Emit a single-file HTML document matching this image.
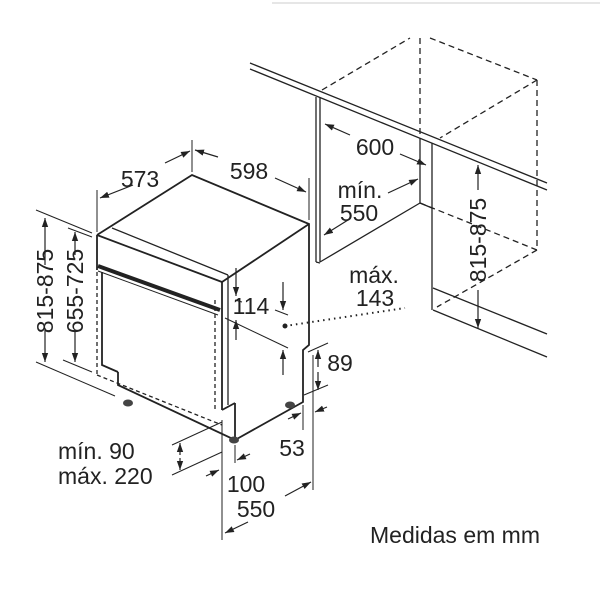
<!DOCTYPE html>
<html><head><meta charset="utf-8"><style>
html,body{margin:0;padding:0;background:#fff}
svg{display:block}
text{font-family:"Liberation Sans",sans-serif;fill:#222}
</style></head><body>
<svg width="600" height="600" viewBox="0 0 600 600" xmlns="http://www.w3.org/2000/svg">
<defs><marker id="a" viewBox="0 0 10 10" refX="10" refY="5" markerWidth="9" markerHeight="9" markerUnits="userSpaceOnUse" orient="auto-start-reverse"><path d="M0,1.5 L10,5 L0,8.5 z" fill="#222"/></marker></defs>
<line x1="272" y1="3" x2="600" y2="3" stroke="#ddd" stroke-width="1.5"/>
<g stroke="#222" fill="none" stroke-width="1.3">
<line x1="250" y1="63" x2="547" y2="183"/><line x1="250" y1="69" x2="547" y2="190"/>
<line x1="316" y1="97" x2="316" y2="262"/><line x1="320" y1="98" x2="320" y2="262"/>
<line x1="320" y1="262" x2="420" y2="203"/><line x1="316" y1="262" x2="320" y2="263"/>
<line x1="420" y1="138" x2="420" y2="203"/><line x1="420" y1="203" x2="432" y2="208"/>
<line x1="432" y1="143" x2="432" y2="310"/>
<line x1="433" y1="288" x2="547" y2="334"/><line x1="433" y1="310" x2="547" y2="357"/>
<g stroke-dasharray="6,4">
<line x1="322" y1="90" x2="410" y2="38"/><line x1="420" y1="38" x2="420" y2="138"/>
<line x1="430" y1="38" x2="537" y2="80"/><line x1="537" y1="80" x2="537" y2="250"/>
<line x1="537" y1="80" x2="440" y2="138"/><line x1="420" y1="203" x2="537" y2="250"/>
<line x1="537" y1="250" x2="437" y2="307"/>
</g>
<g stroke-width="1.8">
<polyline points="97,235 192,175 309,224 309,345 303,350 303,402 235,440 118,385 118,372"/>
<line x1="97" y1="235" x2="97" y2="270"/>
<line x1="97" y1="235" x2="222" y2="282"/>
<line x1="222" y1="282" x2="309" y2="224"/>
<polyline points="102,272 102,365 118,372"/>
<line x1="222" y1="282" x2="222" y2="410"/>
<line x1="222" y1="410" x2="235" y2="403"/>
<line x1="235" y1="403" x2="235" y2="440"/>
</g>
<line x1="112" y1="228" x2="228" y2="275"/>
<line x1="98" y1="266" x2="220" y2="310" stroke-width="4"/>
<line x1="98" y1="271" x2="218" y2="315" stroke-width="1"/>
<line x1="228" y1="275" x2="228" y2="405"/>
<g stroke-dasharray="4,3">
<line x1="97" y1="272" x2="97" y2="375"/><line x1="97" y1="375" x2="222" y2="425"/>
<line x1="215" y1="300" x2="215" y2="410"/>
</g>
<g stroke-width="1">
<line x1="97" y1="190" x2="97" y2="232"/>
<line x1="192" y1="140" x2="192" y2="172"/>
<line x1="309" y1="178" x2="309" y2="220"/>
<line x1="36" y1="210" x2="92" y2="233"/>
<line x1="36" y1="362" x2="115" y2="396"/>
<line x1="68" y1="228" x2="92" y2="237"/>
<line x1="63" y1="360" x2="92" y2="372"/>
<line x1="235" y1="300" x2="242" y2="302"/>
<line x1="225" y1="318" x2="288" y2="348"/>
<line x1="275" y1="310" x2="288" y2="315"/>
<line x1="308" y1="352" x2="328" y2="343"/>
<line x1="304" y1="395" x2="328" y2="385"/>
<line x1="313" y1="355" x2="313" y2="490"/>
<line x1="222" y1="420" x2="222" y2="540"/>
<line x1="235" y1="445" x2="235" y2="463"/>
<line x1="303" y1="405" x2="303" y2="430"/>
<line x1="172" y1="445" x2="222" y2="422"/>
<line x1="172" y1="475" x2="222" y2="452"/>
</g>
</g>
<g stroke="#222" stroke-width="1.2" fill="none" marker-end="url(#a)">
<line x1="133" y1="185" x2="100" y2="198"/><line x1="165" y1="163" x2="190" y2="151"/>
<line x1="218" y1="157" x2="195" y2="150"/><line x1="275" y1="178" x2="306" y2="192"/>
<line x1="45" y1="265" x2="45" y2="218"/><line x1="45" y1="328" x2="45" y2="362"/>
<line x1="75" y1="255" x2="75" y2="232"/><line x1="75" y1="330" x2="75" y2="362"/>
<line x1="236" y1="268" x2="236" y2="296"/><line x1="236" y1="340" x2="236" y2="320"/>
<line x1="283" y1="282" x2="283" y2="310"/><line x1="283" y1="375" x2="283" y2="350"/>
<line x1="318" y1="367" x2="318" y2="350"/><line x1="318" y1="372" x2="318" y2="390"/>
<line x1="350" y1="135" x2="325" y2="124"/><line x1="400" y1="154" x2="426" y2="165"/>
<line x1="388" y1="193" x2="418" y2="179"/><line x1="348" y1="220" x2="324" y2="235"/>
<line x1="478" y1="190" x2="478" y2="165"/><line x1="478" y1="290" x2="478" y2="328"/>
<line x1="180" y1="455" x2="180" y2="443"/><line x1="180" y1="458" x2="180" y2="470"/>
<line x1="206" y1="476" x2="219" y2="470"/><line x1="250" y1="454" x2="237" y2="460"/>
<line x1="288" y1="419" x2="301" y2="413"/><line x1="327" y1="407" x2="315" y2="412"/>
<line x1="248" y1="522" x2="225" y2="533"/><line x1="285" y1="496" x2="311" y2="482"/>
</g>
<path d="M285,326 L405,308" stroke="#222" stroke-width="2" stroke-dasharray="1.5,4" fill="none"/>
<circle cx="285" cy="326" r="2.5" fill="#222"/>
<g fill="#444"><ellipse cx="128" cy="403" rx="5" ry="3.5"/><ellipse cx="234" cy="440" rx="5" ry="3.5"/><ellipse cx="290" cy="405" rx="5" ry="3.5"/></g>
<g font-size="23" text-anchor="middle">
<text x="140" y="187">573</text><text x="249" y="179">598</text>
<text x="375" y="155">600</text><text x="360" y="198">mín.</text><text x="359" y="221">550</text>
<text x="374" y="283">máx.</text><text x="375" y="306">143</text>
<text x="251" y="314">114</text><text x="340" y="371">89</text>
<text x="292" y="456">53</text><text x="246" y="492">100</text><text x="256" y="517">550</text>
<text x="455" y="543">Medidas em mm</text>
<text transform="translate(53,291) rotate(-90)">815-875</text>
<text transform="translate(83,291) rotate(-90)">655-725</text>
<text transform="translate(486,240) rotate(-90)">815-875</text>
</g>
<g font-size="23">
<text x="58" y="459">mín. 90</text><text x="58" y="484">máx. 220</text>
</g>
</svg>
</body></html>
